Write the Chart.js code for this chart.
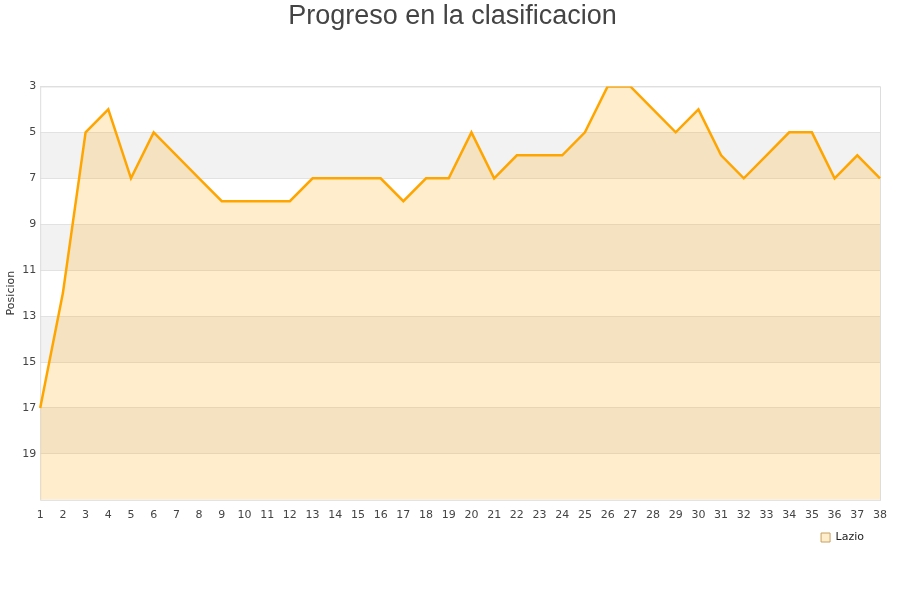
<!DOCTYPE html>
<html>
<head>
<meta charset="utf-8">
<script src="https://cdn.jsdelivr.net/npm/chart.js@4"></script>
<style>
  html, body { margin: 0; padding: 0; background: #fff; }
</style>
</head>
<body>
<canvas id="chart" width="900" height="600"></canvas>
<script>
// Datos
const jornadas = ['1','2','3','4','5','6','7','8','9','10','11','12','13','14','15','16','17','18','19',
  '20','21','22','23','24','25','26','27','28','29','30','31','32','33','34','35','36','37','38'];
const posLazio = [17, 12, 5, 4, 7, 5, 6, 7, 8, 8, 8, 8, 7, 7, 7, 7, 8, 7, 7,
  5, 7, 6, 6, 6, 5, 3, 3, 4, 5, 4, 6, 7, 6, 5, 5, 7, 6, 7];
const bandas = [[5, 7], [9, 11], [13, 15], [17, 19]];

// bandas grises + marco
const bandsPlugin = {
  id: 'bands',
  afterLayout(chart) {
    // subir un poco la leyenda, pegada al eje x
    const lg = chart.legend;
    if (lg) { lg.top -= 27; lg.bottom -= 27; }
  },
  beforeDraw(chart) {
    const { ctx, chartArea: a, scales: { y } } = chart;
    ctx.save();
    ctx.fillStyle = '#f2f2f2';
    bandas.forEach(b => {
      const y1 = y.getPixelForValue(b[0]);
      const y2 = y.getPixelForValue(b[1]);
      ctx.fillRect(a.left, y1, a.right - a.left, y2 - y1);
    });
    ctx.restore();
  },
  beforeDatasetsDraw(chart) {
    const { ctx, chartArea: a } = chart;
    ctx.save();
    ctx.strokeStyle = '#dddddd';
    ctx.lineWidth = 1;
    ctx.strokeRect(a.left + 0.5, a.top + 0.5, a.right - a.left, a.bottom - a.top);
    ctx.restore();
  }
};

const ctx = document.getElementById('chart').getContext('2d');
new Chart(ctx, {
  type: 'line',
  data: {
    labels: jornadas,
    datasets: [{
      label: 'Lazio',
      data: posLazio,
      borderColor: '#ffa500',
      backgroundColor: 'rgba(255,165,0,0.2)',
      borderWidth: 2.5,
      pointRadius: 0,
      fill: { value: 21 },
      tension: 0
    }]
  },
  options: {
    responsive: false,
    animation: false,
    layout: { padding: { left: 5, right: 0, top: 0, bottom: 20 } },
    scales: {
      x: {
        offset: false,
        grid: { display: false },
        border: { display: false },
        ticks: { color: '#444', font: { family: 'DejaVu Sans', size: 11 }, maxRotation: 0, autoSkip: false, padding: 1 },
        afterFit(scale) { scale.paddingRight = 20; }
      },
      y: {
        reverse: true,
        min: 3,
        max: 21,
        afterBuildTicks(axis) { axis.ticks = axis.ticks.filter(t => t.value < 21); },
        ticks: { stepSize: 2, color: '#444', font: { family: 'DejaVu Sans', size: 11 }, padding: 4 },
        grid: { color: '#e2e2e2', drawTicks: false },
        border: { display: false },
        title: { display: true, text: 'Posicion', color: '#333', font: { family: 'DejaVu Sans', size: 11 }, padding: 0 }
      }
    },
    plugins: {
      title: {
        display: true,
        text: 'Progreso en la clasificacion',
        color: '#444',
        font: { family: 'Arial, "Liberation Sans", sans-serif', size: 27, weight: 'normal' },
        padding: { top: 0, bottom: 54 }
      },
      legend: {
        position: 'bottom',
        align: 'end',
        labels: {
          boxWidth: 9,
          boxHeight: 9,
          padding: 36,
          color: '#222',
          font: { family: 'DejaVu Sans', size: 11 },
          generateLabels(chart) {
            const items = Chart.defaults.plugins.legend.labels.generateLabels(chart);
            items.forEach(it => { it.lineWidth = 1; it.strokeStyle = '#c8a060'; });
            return items;
          }
        }
      },
      tooltip: { enabled: false }
    }
  },
  plugins: [bandsPlugin]
});
</script>
</body>
</html>
